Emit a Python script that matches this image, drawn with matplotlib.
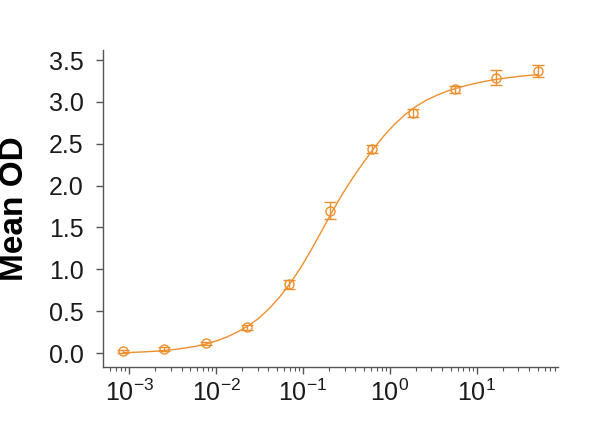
import numpy as np
import matplotlib
matplotlib.use('Agg')
import matplotlib.pyplot as plt

plt.rcParams['font.family'] = ['Liberation Sans', 'DejaVu Sans']
plt.rcParams['mathtext.fontset'] = 'custom'
plt.rcParams['mathtext.rm'] = 'Liberation Sans'

# concentrations (3-fold dilution) and mean OD
conc = [0.000847, 0.00254, 0.00762, 0.0229, 0.0686, 0.206, 0.617, 1.85, 5.56, 16.7, 50.0]
mean_od = [0.02, 0.05, 0.115, 0.31, 0.82, 1.70, 2.44, 2.87, 3.15, 3.29, 3.37]
err_od = [0.02, 0.02, 0.02, 0.03, 0.05, 0.10, 0.05, 0.05, 0.04, 0.085, 0.07]

# fitted curve (log10 of conc, OD)
curve_logx = [-3.07, -2.95, -2.83, -2.71, -2.59, -2.47, -2.35, -2.23, -2.11, -1.99,
              -1.87, -1.75, -1.63, -1.51, -1.39, -1.27, -1.15, -1.03, -0.91, -0.79,
              -0.67, -0.55, -0.43, -0.31, -0.19, -0.07, 0.05, 0.17, 0.29, 0.41,
              0.53, 0.65, 0.77, 0.89, 1.01, 1.13, 1.25, 1.37, 1.49, 1.61, 1.70]
curve_od = [0.004, 0.008, 0.014, 0.021, 0.031, 0.044, 0.060, 0.082, 0.110, 0.147,
            0.194, 0.254, 0.325, 0.415, 0.530, 0.668, 0.830, 1.015, 1.225, 1.450,
            1.680, 1.895, 2.090, 2.270, 2.440, 2.595, 2.730, 2.845, 2.940, 3.015,
            3.075, 3.125, 3.165, 3.198, 3.228, 3.253, 3.273, 3.290, 3.305, 3.318, 3.325]

yticks = [0.0, 0.5, 1.0, 1.5, 2.0, 2.5, 3.0, 3.5]
xticks = [1e-3, 1e-2, 1e-1, 1e0, 1e1]
xtick_labels = ['$10^{-3}$', '$10^{-2}$', '$10^{-1}$', '$10^{0}$', '$10^{1}$']

orange = '#EE8F2E'

fig = plt.figure(figsize=(6.03, 4.29), dpi=100)
ax = fig.add_axes([0.171, 0.1445, 0.754, 0.739])

ax.plot(10 ** np.array(curve_logx), curve_od, color=orange, lw=1.0, zorder=2)
ax.errorbar(conc, mean_od, yerr=err_od, fmt='o', mfc='none', mec=orange, ms=6.5, mew=1.0,
            ecolor=orange, elinewidth=1.0, capsize=4, capthick=1.0, zorder=3)

ax.set_xscale('log')
ax.set_xlim(10 ** -3.30, 10 ** 1.93)
ax.set_ylim(-0.167, 3.62)

ax.set_yticks(yticks)
ax.set_yticklabels(['%.1f' % v for v in yticks])
ax.set_xticks(xticks)
ax.set_xticklabels(xtick_labels)

for s in ['top', 'right']:
    ax.spines[s].set_visible(False)
for s in ['left', 'bottom']:
    ax.spines[s].set_color('#555555')
    ax.spines[s].set_linewidth(1.0)

ax.tick_params(axis='y', which='major', length=5, width=1, color='#555555',
               labelsize=18, pad=9, labelcolor='#1a1a1a')
ax.tick_params(axis='x', which='major', length=5, width=1, color='#555555',
               labelsize=18, pad=4, labelcolor='#1a1a1a')
ax.tick_params(axis='x', which='minor', length=3, width=0.8, color='#555555')

fig.text(15 / 603, 1 - 209 / 429, 'Mean OD', rotation=90, ha='center', va='center',
         fontsize=24, fontweight='bold', color='black')

fig.savefig('out.png', dpi=100)
